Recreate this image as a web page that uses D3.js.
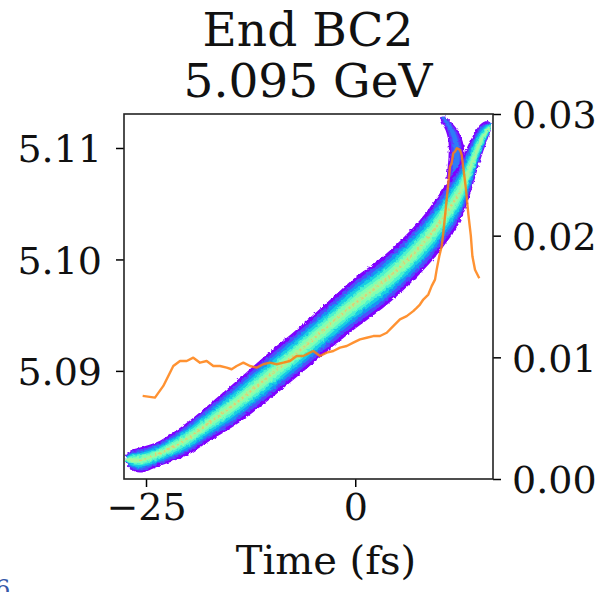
<!DOCTYPE html>
<html>
<head>
<meta charset="utf-8">
<script src="https://cdn.jsdelivr.net/npm/d3@7"></script>
<style>
  html, body { margin: 0; padding: 0; background: #fff; }
  svg { display: block; }
</style>
</head>
<body>
<svg id="chart" width="616" height="592"></svg>
<script>
// Phase space at end of BC2: energy vs time, with the current profile on the right axis.

const W = 616, H = 592
const M = { left: 124, right: 493, top: 114, bottom: 479 }
const FONT = '"DejaVu Serif", "Liberation Serif", serif'

// ---------------------------------------------------------------
// Data
// ---------------------------------------------------------------
const titleLines = ['End BC2', '5.095 GeV']
const xTicks = [-25, 0]
const yTicks = [5.09, 5.10, 5.11]
const y2Ticks = [0.00, 0.01, 0.02, 0.03]

// centre line of the beam density band (time fs, energy GeV, half spread GeV)
const bandT = [-27.40, -26.80, -25.72, -23.33, -20.10, -17.36, -14.61, -10.55, -6.66, -2.66, -0.27, 3.79, 7.73, 10.12, 12.51, 13.71, 14.90, 15.74, 16.15]
const bandE = [5.08205, 5.08202, 5.08200, 5.08262, 5.08390, 5.08540, 5.08690, 5.08937, 5.09179, 5.09440, 5.09592, 5.09825, 5.10112, 5.10336, 5.10605, 5.10821, 5.11045, 5.11153, 5.11190]
const bandHalf = [0.00035, 0.00085, 0.00112, 0.00112, 0.00146, 0.00166, 0.00192, 0.00212, 0.00214, 0.00222, 0.00230, 0.00232, 0.00242, 0.00260, 0.00266, 0.00240, 0.00164, 0.00090, 0.00040]

// small branch of the tail at the head (energy GeV, time centre fs, half width fs)
const tailE = [5.11280, 5.11250, 5.11162, 5.11054, 5.10892, 5.10731]
const tailT = [10.55, 10.75, 11.50, 12.00, 12.10, 11.80]
const tailHalf = [0.25, 0.52, 0.72, 0.86, 0.98, 0.90]

// current profile (time fs, right axis)
const curT = [-25.40, -23.93, -22.93, -21.74, -20.94, -20.14, -19.35, -18.55, -17.75, -16.96, -16.16, -15.36, -14.77, -14.17, -13.37, -12.58, -11.78, -10.98, -10.19, -9.39, -8.59, -7.80, -7.00, -6.21, -5.41, -5.01, -4.21, -3.41, -2.62, -1.82, -1.02, -0.23, 0.57, 1.37, 2.16, 2.96, 3.76, 4.54, 5.34, 6.15, 6.93, 7.34, 7.73, 8.13, 8.73, 9.13, 9.53, 9.73, 10.04, 10.33, 10.52, 10.72, 10.92, 11.12, 11.32, 11.52, 11.71, 11.92, 12.15, 12.51, 12.72, 12.91, 13.20, 13.51, 13.81, 14.00, 14.31, 14.82]
const curI = [0.00683, 0.00669, 0.00765, 0.00929, 0.00970, 0.00970, 0.00997, 0.00956, 0.00970, 0.00929, 0.00929, 0.00915, 0.00902, 0.00929, 0.00956, 0.00929, 0.00915, 0.00943, 0.00956, 0.00943, 0.00956, 0.00970, 0.01011, 0.01011, 0.01039, 0.01052, 0.01011, 0.01039, 0.01052, 0.01080, 0.01093, 0.01121, 0.01148, 0.01161, 0.01175, 0.01175, 0.01202, 0.01257, 0.01312, 0.01339, 0.01380, 0.01407, 0.01434, 0.01475, 0.01516, 0.01585, 0.01639, 0.01721, 0.01831, 0.01913, 0.02022, 0.02158, 0.02295, 0.02432, 0.02568, 0.02596, 0.02678, 0.02691, 0.02719, 0.02705, 0.02664, 0.02560, 0.02400, 0.02180, 0.02000, 0.01830, 0.01720, 0.01650]

// density contour levels (colormap value, fraction of half spread)
const levels = [0.00, 0.10, 0.20, 0.30, 0.40, 0.50, 0.58]
const levelFrac = [1.00, 0.84, 0.68, 0.54, 0.40, 0.27, 0.13]
// the tail branch is fainter: colormap values and fractions of its own
const tailLevels = [0.00, 0.08, 0.16]
const tailFrac = [1.00, 0.70, 0.38]

// ---------------------------------------------------------------
// Helpers
// ---------------------------------------------------------------
// matplotlib "rainbow" colormap
function rainbow(v) {
    const r = Math.min(1, Math.abs(2 * v - 0.5))
    const g = Math.sin(Math.PI * v)
    const b = Math.cos(Math.PI * v / 2)
    return d3.rgb(r * 255, g * 255, b * 255).formatHex()
}

const band = bandT.map((t, i) => ({ t, e: bandE[i], w: bandHalf[i] }))
const tail = tailE.map((e, i) => ({ e, t: tailT[i], w: tailHalf[i] }))
const current = curT.map((t, i) => ({ t, v: curI[i] }))

// ---------------------------------------------------------------
// Scales
// ---------------------------------------------------------------
const x = d3.scaleLinear().domain([-27.63, 16.46]).range([M.left, M.right])
const y = d3.scaleLinear().domain([5.0803, 5.11305]).range([M.bottom, M.top])
const y2 = d3.scaleLinear().domain([0, 0.03]).range([M.bottom, M.top])

const svg = d3.select('#chart')
const defs = svg.append('defs')

defs.append('clipPath').attr('id', 'plot')
    .append('rect')
    .attr('x', M.left).attr('y', M.top)
    .attr('width', M.right - M.left).attr('height', M.bottom - M.top)

// ragged histogram edge
const rough = defs.append('filter').attr('id', 'rough')
    .attr('x', '-5%').attr('y', '-5%').attr('width', '110%').attr('height', '110%')
rough.append('feTurbulence')
    .attr('type', 'fractalNoise').attr('baseFrequency', 0.35).attr('numOctaves', 1).attr('seed', 3)
rough.append('feDisplacementMap')
    .attr('in', 'SourceGraphic').attr('scale', 3.5)
    .attr('xChannelSelector', 'R').attr('yChannelSelector', 'G')

const gPlot = svg.append('g').attr('clip-path', 'url(#plot)')
const gBand = gPlot.append('g').attr('filter', 'url(#rough)')

// ---------------------------------------------------------------
// Density band, drawn as nested levels
// ---------------------------------------------------------------
tailLevels.forEach((lv, k) => {
    const f = tailFrac[k]
    gBand.append('path')
        .datum(tail)
        .attr('d', d3.area()
            .y(d => y(d.e))
            .x0(d => x(d.t - d.w * f))
            .x1(d => x(d.t + d.w * f))
            .curve(d3.curveCatmullRom))
        .attr('fill', rainbow(lv))
})

levels.forEach((lv, k) => {
    const f = levelFrac[k]
    gBand.append('path')
        .datum(band)
        .attr('d', d3.area()
            .x(d => x(d.t))
            .y0(d => y(d.e - d.w * f))
            .y1(d => y(d.e + d.w * f))
            .curve(d3.curveCatmullRom))
        .attr('fill', rainbow(lv))
})

// hot speckle along the core
gBand.append('path')
    .datum(band.slice(2, 15))
    .attr('d', d3.line().x(d => x(d.t)).y(d => y(d.e)).curve(d3.curveCatmullRom))
    .attr('fill', 'none')
    .attr('stroke', rainbow(0.74))
    .attr('stroke-width', 2.2)
    .attr('stroke-dasharray', '2,3')
    .attr('opacity', 0.7)

// ---------------------------------------------------------------
// Current profile
// ---------------------------------------------------------------
gPlot.append('path')
    .datum(current)
    .attr('d', d3.line().x(d => x(d.t)).y(d => y2(d.v)))
    .attr('fill', 'none')
    .attr('stroke', '#ff7f0e')
    .attr('stroke-width', 2.4)
    .attr('stroke-linejoin', 'round')
    .attr('opacity', 0.85)

// ---------------------------------------------------------------
// Axes
// ---------------------------------------------------------------
function styleAxis(g) {
    g.select('.domain').remove()
    g.selectAll('.tick line').attr('stroke', '#000').attr('stroke-width', 1.5)
    g.selectAll('.tick text')
        .attr('fill', '#111')
        .style('font-family', FONT)
        .style('font-size', '38px')
}

svg.append('g')
    .attr('transform', `translate(0,${M.bottom})`)
    .call(d3.axisBottom(x).tickValues(xTicks).tickSize(8).tickPadding(6)
        .tickFormat(d => d < 0 ? '\u2212' + Math.abs(d) : d))
    .call(styleAxis)

svg.append('g')
    .attr('transform', `translate(${M.left},0)`)
    .call(d3.axisLeft(y).tickValues(yTicks).tickSize(8).tickPadding(14).tickFormat(d3.format('.2f')))
    .call(styleAxis)
    .selectAll('.tick text').attr('dy', '0.36em')

svg.append('g')
    .attr('transform', `translate(${M.right},0)`)
    .call(d3.axisRight(y2).tickValues(y2Ticks).tickSize(8).tickPadding(11).tickFormat(d3.format('.2f')))
    .call(styleAxis)
    .selectAll('.tick text').attr('dy', '0.36em')

// frame
svg.append('rect')
    .attr('x', M.left).attr('y', M.top)
    .attr('width', M.right - M.left).attr('height', M.bottom - M.top)
    .attr('fill', 'none')
    .attr('stroke', '#222')
    .attr('stroke-width', 1.6)

// ---------------------------------------------------------------
// Titles
// ---------------------------------------------------------------
svg.selectAll('text.title')
    .data(titleLines)
    .join('text')
    .attr('class', 'title')
    .attr('x', 308)
    .attr('y', (d, i) => 46 + i * 51)
    .attr('text-anchor', 'middle')
    .style('font-family', FONT)
    .style('font-size', '47px')
    .attr('fill', '#111')
    .text(d => d)

svg.append('text')
    .attr('x', 326)
    .attr('y', 574)
    .attr('text-anchor', 'middle')
    .style('font-family', FONT)
    .style('font-size', '40px')
    .attr('fill', '#111')
    .text('Time (fs)')

// clipped fragment at the page corner
svg.append('text')
    .attr('x', -5)
    .attr('y', 597)
    .style('font-family', FONT)
    .style('font-size', '24px')
    .attr('fill', '#3458a8')
    .text('6')
</script>
</body>
</html>
